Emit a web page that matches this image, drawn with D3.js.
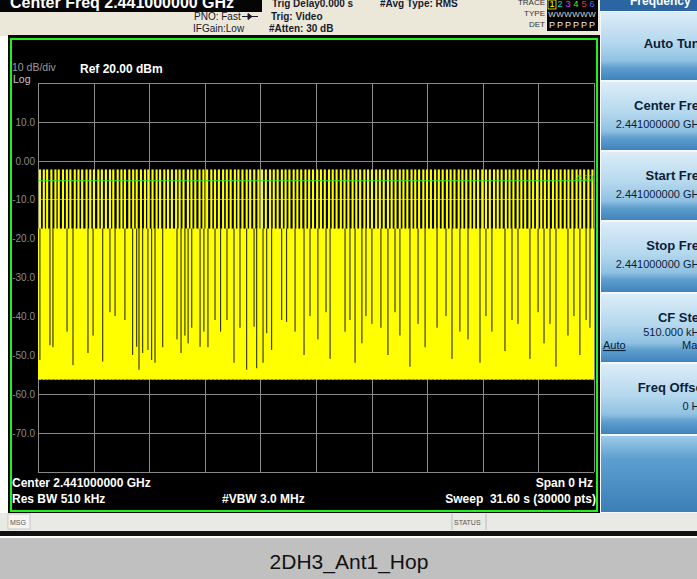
<!DOCTYPE html>
<html>
<head>
<meta charset="utf-8">
<script src="https://cdn.jsdelivr.net/npm/d3@7"></script>
<style>
    body { margin: 0; background: #fff; }
    svg { display: block; font-family: "Liberation Sans", Arial, sans-serif; }
</style>
</head>
<body>
<svg id="chart" width="697" height="579"></svg>
<script>
// ---- data ----
const refLevel = 20;          // dBm, top of grid
const dbPerDiv = 10;
const sweepTime = 31.6;       // s, zero span
const yTickValues = [10, 0, -10, -20, -30, -40, -50, -60, -70];
const yTickLabels = ["10.0", "0.00", "-10.0", "-20.0", "-30.0", "-40.0", "-50.0", "-60.0", "-70.0"];
const displayLine = -5.2;     // dBm
const burstTop = -2.3;        // dBm, peak of each hop burst
const noiseTop = -17.5;       // dBm, upper edge of the filled band
const noiseFloor = -56.3;     // dBm, lower edge of the trace
const burstDuration = 0.12;   // s
// times (s) of the hop bursts that reach burstTop
const burstTimes = [0.05,0.27,0.46,0.70,0.93,1.12,1.36,1.58,1.78,2.03,2.24,2.45,2.70,2.91,3.12,3.37,3.57,3.80,4.03,4.22,
    4.47,4.68,4.88,5.13,5.35,5.55,5.79,6.02,6.21,6.45,6.68,6.88,7.12,7.33,7.55,7.79,7.99,8.21,8.46,8.66,8.88,9.12,9.34,
    9.55,9.79,10.00,10.22,10.46,10.67,10.89,11.13,11.33,11.56,11.80,12.00,12.23,12.47,12.67,12.89,13.13,13.34,13.56,13.80,
    14.01,14.23,14.47,14.68,14.90,15.14,15.35,15.57,15.81,16.02,16.24,16.48,16.69,16.91,17.15,17.36,17.58,17.82,18.03,
    18.25,18.49,18.70,18.92,19.16,19.37,19.59,19.83,20.04,20.26,20.50,20.71,20.93,21.17,21.38,21.60,21.84,22.05,22.27,
    22.51,22.72,22.94,23.18,23.39,23.61,23.85,24.06,24.28,24.52,24.73,24.95,25.19,25.40,25.62,25.86,26.07,26.29,26.53,
    26.74,26.96,27.20,27.41,27.63,27.87,28.08,28.30,28.54,28.75,28.97,29.21,29.42,29.64,29.88,30.09,30.31,30.55,30.76,
    30.98,31.22,31.45];
// [time s, lowest max level dBm] where the trace drops out between hops
const dips = [[0.11,-51.3],[0.68,-47.5],[0.85,-48],[1.65,-44],[1.99,-52.6],[2.84,-49.5],[3.13,-45],[3.68,-51.7],
    [4.09,-39],[4.38,-40],[4.94,-41],[5.38,-50],[5.61,-47.9],[5.74,-53.8],[5.95,-49.5],[6.25,-48.7],[6.46,-51.3],
    [6.65,-52],[7.09,-48],[7.90,-46],[8.13,-49.5],[8.35,-45],[8.53,-47],[8.74,-43],[9.21,-47.9],[9.43,-44],[9.66,-48],
    [10.06,-41],[10.38,-44],[10.74,-41],[11.14,-52],[11.48,-43],[11.86,-53.8],[12.28,-42.7],[12.43,-53.4],[12.79,-52],
    [13.00,-44.4],[13.28,-48.7],[13.85,-41],[14.13,-41.5],[14.61,-44],[15.12,-50],[15.46,-40],[15.91,-46],[16.37,-39],
    [16.60,-51],[17.45,-44],[17.73,-41],[18.02,-52],[18.41,-47],[18.64,-40],[18.98,-42],[19.49,-43],[19.89,-50],
    [20.29,-39],[20.57,-45],[21.14,-53],[21.60,-42],[22.00,-48],[22.68,-43],[23.19,-40],[23.53,-51],[23.98,-44],
    [24.44,-46],[25.12,-52],[25.46,-40],[25.80,-44],[26.54,-49],[26.94,-41],[27.28,-42],[27.96,-51],[28.42,-39],
    [28.76,-47],[29.10,-42],[29.44,-53],[30.12,-45],[30.46,-40],[30.80,-50],[31.15,-41],[31.37,-43]];

const softkeys = [
    {title: "Auto Tune", value: null},
    {title: "Center Freq", value: "2.441000000 GHz"},
    {title: "Start Freq", value: "2.441000000 GHz"},
    {title: "Stop Freq", value: "2.441000000 GHz"},
    {title: "CF Step", value: "510.000 kHz", auto: true},
    {title: "Freq Offset", value: "0 Hz"},
    {title: "", value: null}
];

const svg = d3.select("#chart");

// ---- frame / header ----
svg.append("rect").attr("x", 0).attr("y", 0).attr("width", 697).attr("height", 579).attr("fill", "#ffffff");
svg.append("rect").attr("x", 0).attr("y", 0).attr("width", 600).attr("height", 36).attr("fill", "#ebe8da");
svg.append("rect").attr("x", 0).attr("y", 0).attr("width", 262).attr("height", 12).attr("fill", "#050505");
svg.append("text").attr("x", 10).attr("y", 8).attr("fill", "#fff").attr("font-size", 16).attr("font-weight", "bold")
    .text("Center Freq 2.441000000 GHz");

const hdr = [
    {x: 272, y: 7, t: "Trig Delay0.000 s", b: true},
    {x: 380, y: 7, t: "#Avg Type: RMS", b: true},
    {x: 194, y: 20, t: "PNO: Fast"},
    {x: 193, y: 32, t: "IFGain:Low"},
    {x: 271, y: 20, t: "Trig: Video", b: true},
    {x: 269, y: 32, t: "#Atten: 30 dB", b: true}
];
svg.selectAll(".hdr").data(hdr).join("text")
    .attr("x", d => d.x).attr("y", d => d.y)
    .attr("font-size", 10).attr("font-weight", d => d.b ? "bold" : "normal").attr("fill", "#1a1a2a")
    .text(d => d.t);
svg.append("path").attr("d", "M242,16.5 H258 M248,13.5 L252,16.5 L248,19.5 Z")
    .attr("stroke", "#1a1a2a").attr("fill", "#1a1a2a");

[["TRACE", 5], ["TYPE", 16], ["DET", 27]].forEach(([t, y]) => {
    svg.append("text").attr("x", 545).attr("y", y).attr("text-anchor", "end")
        .attr("font-size", 8).attr("fill", "#333").text(t);
});
svg.append("rect").attr("x", 547).attr("y", 0).attr("width", 51).attr("height", 31).attr("fill", "#000");
const traceColors = ["#ffff00", "#00e0e0", "#ff2aff", "#30ff30", "#ff3030", "#5070ff"];
traceColors.forEach((c, i) => {
    const x = 552 + i * 8;
    svg.append("text").attr("x", x).attr("y", 7).attr("text-anchor", "middle")
        .attr("font-size", 9).attr("fill", c).text(i + 1);
    svg.append("text").attr("x", x).attr("y", 17).attr("text-anchor", "middle")
        .attr("font-size", 8).attr("fill", "#ddd").text("W");
    svg.append("text").attr("x", x).attr("y", 28).attr("text-anchor", "middle")
        .attr("font-size", 9).attr("fill", "#eee").text("P");
});
svg.append("rect").attr("x", 548).attr("y", 0).attr("width", 8).attr("height", 9)
    .attr("fill", "none").attr("stroke", "#ffff00").attr("stroke-width", 0.8);

// ---- softkey panel ----
const defs = svg.append("defs");
const grad = defs.append("linearGradient").attr("id", "key").attr("x1", 0).attr("y1", 0).attr("x2", 0).attr("y2", 1);
[[0, "#dcedf8"], [0.45, "#b4d8ee"], [0.72, "#8fc1e2"], [0.82, "#5f9fcf"], [1, "#3f83bb"]]
    .forEach(([o, c]) => grad.append("stop").attr("offset", o).attr("stop-color", c));
const grad2 = defs.append("linearGradient").attr("id", "key2").attr("x1", 0).attr("y1", 0).attr("x2", 0).attr("y2", 1);
[[0, "#9ccbe8"], [0.3, "#5d9fd0"], [1, "#3b7fb8"]]
    .forEach(([o, c]) => grad2.append("stop").attr("offset", o).attr("stop-color", c));
const clip = defs.append("clipPath").attr("id", "panelClip");
clip.append("rect").attr("x", 600).attr("y", 0).attr("width", 97).attr("height", 514);

const panel = svg.append("g").attr("clip-path", "url(#panelClip)");
panel.append("rect").attr("x", 600).attr("y", 0).attr("width", 97).attr("height", 514).attr("fill", "#f4f8fb");
panel.append("rect").attr("x", 600).attr("y", 0).attr("width", 97).attr("height", 11).attr("fill", "#2b66a3");
panel.append("text").attr("x", 630).attr("y", 5).attr("fill", "#fff").attr("font-size", 12)
    .attr("font-weight", "bold").text("Frequency");

const keyTops = [12, 82, 152, 222, 294, 364, 436];
const keyBottoms = [80, 150, 220, 292, 362, 434, 512];
softkeys.forEach((k, i) => {
    const y0 = keyTops[i], y1 = keyBottoms[i];
    panel.append("rect").attr("x", 601).attr("y", y0).attr("width", 96).attr("height", y1 - y0)
        .attr("fill", i === 6 ? "url(#key2)" : "url(#key)");
    const hasVal = k.value !== null;
    const ty = hasVal ? y0 + 28 : y0 + 36;
    panel.append("text").attr("x", 707).attr("y", ty).attr("text-anchor", "end")
        .attr("font-size", 13).attr("font-weight", "bold").attr("fill", "#0c1d38").text(k.title);
    if (hasVal) {
        panel.append("text").attr("x", 705).attr("y", k.auto ? ty + 14 : ty + 18).attr("text-anchor", "end")
            .attr("font-size", 11).attr("fill", "#0c1d38").text(k.value);
    }
    if (k.auto) {
        panel.append("text").attr("x", 603).attr("y", ty + 27).attr("font-size", 11)
            .attr("fill", "#0c1d38").attr("text-decoration", "underline").text("Auto");
        panel.append("text").attr("x", 682).attr("y", ty + 27).attr("font-size", 11)
            .attr("fill", "#0c1d38").text("Man");
    }
});

// ---- screen ----
svg.append("rect").attr("x", 8).attr("y", 35).attr("width", 592).attr("height", 479).attr("fill", "#0a0a0a");
svg.append("rect").attr("x", 11).attr("y", 39).attr("width", 586).attr("height", 472)
    .attr("fill", "#000").attr("stroke", "#22ee22").attr("stroke-width", 2);

const x = d3.scaleLinear().domain([0, sweepTime]).range([38, 594]);
const y = d3.scaleLinear().domain([refLevel - 10 * dbPerDiv, refLevel]).range([471.7, 82.7]);

// grid
const gx = d3.axisBottom(x).tickValues(d3.range(0, 11).map(i => i * sweepTime / 10))
    .tickSize(-(y.range()[0] - y.range()[1])).tickFormat("");
const gy = d3.axisLeft(y).tickValues(d3.range(0, 11).map(i => refLevel - i * dbPerDiv))
    .tickSize(-(x.range()[1] - x.range()[0])).tickFormat("");
const grid = svg.append("g");
grid.append("g").attr("transform", `translate(0,${y.range()[0]})`).call(gx);
grid.append("g").attr("transform", `translate(${x.range()[0]},0)`).call(gy);
grid.selectAll(".domain").remove();
grid.selectAll("line").attr("stroke", "#8a8a8a").attr("stroke-width", 1).attr("shape-rendering", "crispEdges");

// tick labels
svg.selectAll(".ylab").data(yTickValues).join("text")
    .attr("x", 35).attr("y", d => y(d) + 4).attr("text-anchor", "end")
    .attr("font-size", 10).attr("fill", "#8c8c8c").text((d, i) => yTickLabels[i]);

svg.append("text").attr("x", 12).attr("y", 71).attr("font-size", 10.5).attr("fill", "#9a9a9a").text("10 dB/div");
svg.append("text").attr("x", 13).attr("y", 83).attr("font-size", 10.5).attr("fill", "#c8c8c8").text("Log");
svg.append("text").attr("x", 80).attr("y", 73).attr("font-size", 12).attr("font-weight", "bold")
    .attr("fill", "#fff").text("Ref 20.00 dBm");

// trace
const trace = svg.append("g");
trace.append("rect")
    .attr("x", x(0)).attr("width", x(sweepTime) - x(0))
    .attr("y", y(noiseTop)).attr("height", y(noiseFloor) - y(noiseTop))
    .attr("fill", "#ffff00");
trace.selectAll(".burst").data(burstTimes).join("rect")
    .attr("x", d => x(d))
    .attr("width", d => Math.max(1.8, x(d + burstDuration) - x(d)))
    .attr("y", y(burstTop)).attr("height", y(noiseFloor) - y(burstTop))
    .attr("fill", "#ffff00");
trace.selectAll(".dip").data(dips).join("line")
    .attr("x1", d => x(d[0])).attr("x2", d => x(d[0]))
    .attr("y1", y(noiseTop)).attr("y2", d => y(d[1]))
    .attr("stroke", "#1a1a10").attr("stroke-width", 1);

// display line
svg.append("line").attr("x1", x(0)).attr("x2", x(sweepTime))
    .attr("y1", y(displayLine)).attr("y2", y(displayLine))
    .attr("stroke", "#33dd33").attr("stroke-width", 1);
svg.append("text").attr("x", 593).attr("y", y(displayLine) - 1).attr("text-anchor", "end")
    .attr("font-size", 8).attr("fill", "#33dd33").text("-5.20");

// bottom annotations
const foot = [
    {x: 12, y: 487, t: "Center 2.441000000 GHz", a: "start"},
    {x: 12, y: 503, t: "Res BW 510 kHz", a: "start"},
    {x: 222, y: 503, t: "#VBW 3.0 MHz", a: "start"},
    {x: 593, y: 487, t: "Span 0 Hz", a: "end"},
    {x: 596, y: 503, t: "Sweep  31.60 s (30000 pts)", a: "end"}
];
svg.selectAll(".foot").data(foot).join("text")
    .attr("x", d => d.x).attr("y", d => d.y).attr("text-anchor", d => d.a)
    .attr("font-size", 12).attr("font-weight", "bold").attr("fill", "#fff")
    .attr("xml:space", "preserve").style("white-space", "pre").text(d => d.t);

// status bar
svg.append("rect").attr("x", 0).attr("y", 513).attr("width", 697).attr("height", 18).attr("fill", "#e9e9e6");
svg.append("rect").attr("x", 8).attr("y", 514).attr("width", 22).attr("height", 15)
    .attr("fill", "#f4f4f2").attr("stroke", "#b0b0b0").attr("stroke-width", 0.6);
svg.append("text").attr("x", 10).attr("y", 525).attr("font-size", 7).attr("fill", "#555").text("MSG");
svg.append("line").attr("x1", 452).attr("x2", 452).attr("y1", 514).attr("y2", 530).attr("stroke", "#bbb");
svg.append("line").attr("x1", 486).attr("x2", 486).attr("y1", 514).attr("y2", 530).attr("stroke", "#bbb");
svg.append("text").attr("x", 454).attr("y", 525).attr("font-size", 7).attr("fill", "#555").text("STATUS");
svg.append("rect").attr("x", 0).attr("y", 531).attr("width", 697).attr("height", 5).attr("fill", "#111");

// caption
svg.append("rect").attr("x", 0).attr("y", 538).attr("width", 697).attr("height", 41).attr("fill", "#c0c0c0");
svg.append("text").attr("x", 349).attr("y", 569).attr("text-anchor", "middle")
    .attr("font-size", 21).attr("fill", "#111").text("2DH3_Ant1_Hop");
</script>
</body>
</html>
